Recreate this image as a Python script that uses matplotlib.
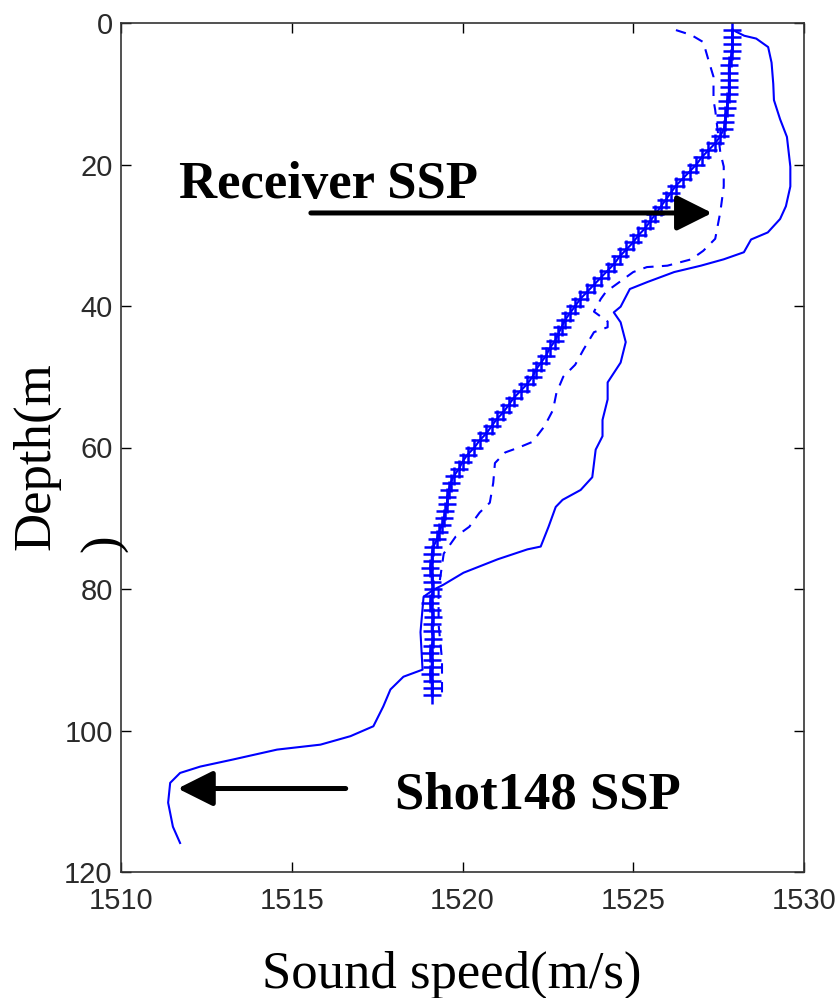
import matplotlib.pyplot as plt
from matplotlib import font_manager

# sound speed profiles: depth (m) vs speed (m/s)
shot_depth = [1.2, 1.8, 2.2, 3.4, 5.6, 8.6, 10.9, 13.6, 16.1, 20.3, 23.1, 25.9,
              27.7, 29.6, 30.6, 32.4, 33.4, 34.3, 35.2, 36.6, 37.6, 40.1, 40.9,
              42.3, 45.1, 48.0, 50.8, 53.2, 56.1, 58.4, 60.3, 64.2, 66.0, 67.4,
              68.4, 71.2, 74.0, 74.4, 75.8, 77.7, 79.4, 80.1, 81.1, 86.1, 91.4,
              92.4, 94.2, 96.6, 99.4, 100.8, 102.0, 102.7, 104.1, 105.1, 106.0,
              107.4, 110.2, 113.6, 115.9]
shot_speed = [1528.0, 1528.25, 1528.6, 1528.95, 1529.05, 1529.1, 1529.12, 1529.3,
              1529.5, 1529.6, 1529.6, 1529.47, 1529.3, 1528.94, 1528.45, 1528.24,
              1527.65, 1526.98, 1526.2, 1525.42, 1524.9, 1524.63, 1524.43, 1524.63,
              1524.78, 1524.63, 1524.25, 1524.25, 1524.1, 1524.1, 1523.9, 1523.8,
              1523.46, 1522.93, 1522.73, 1522.52, 1522.29, 1521.9, 1521.03, 1520.03,
              1519.44, 1519.15, 1518.86, 1518.77, 1518.83, 1518.27, 1517.89, 1517.68,
              1517.39, 1516.72, 1515.84, 1514.57, 1513.28, 1512.32, 1511.73, 1511.44,
              1511.38, 1511.52, 1511.73]

dash_depth = [1.0, 1.7, 2.7, 5.2, 7.6, 10.9, 12.3, 18.3, 20.3, 23.1, 26.7, 30.5,
              32.2, 33.4, 34.3, 34.5, 35.2, 36.6, 38.0, 39.0, 40.8, 42.2, 43.0,
              43.7, 46.1, 48.3, 50.0, 52.3, 54.7, 57.0, 59.2, 60.0, 60.7, 62.2,
              65.0, 67.8, 69.2, 71.2, 72.6, 75.0, 80.0, 85.0, 90.0, 95.2]
dash_speed = [1526.25, 1526.7, 1527.05, 1527.2, 1527.35, 1527.35, 1527.4, 1527.55,
              1527.65, 1527.65, 1527.55, 1527.4, 1527.05, 1526.7, 1526.0, 1525.4,
              1525.0, 1524.6, 1524.2, 1524.05, 1523.85, 1524.25, 1524.25, 1523.85,
              1523.55, 1523.3, 1522.95, 1522.75, 1522.65, 1522.4, 1522.05, 1521.65,
              1521.25, 1520.95, 1520.9, 1520.8, 1520.5, 1520.2, 1519.8, 1519.45,
              1519.3, 1519.3, 1519.4, 1519.4]

recv_depth = list(range(1, 96))
recv_speed = [1527.9, 1527.9, 1527.9, 1527.9, 1527.85, 1527.8, 1527.8, 1527.8,
              1527.8, 1527.8, 1527.75, 1527.75, 1527.7, 1527.7, 1527.65, 1527.55,
              1527.4, 1527.2, 1527.0, 1526.85, 1526.65, 1526.45, 1526.25, 1526.1,
              1525.95, 1525.8, 1525.65, 1525.5, 1525.35, 1525.15, 1525.0, 1524.8,
              1524.6, 1524.45, 1524.25, 1524.05, 1523.85, 1523.65, 1523.45, 1523.3,
              1523.15, 1523.0, 1522.9, 1522.8, 1522.7, 1522.55, 1522.45, 1522.3,
              1522.15, 1522.05, 1521.9, 1521.7, 1521.5, 1521.35, 1521.2, 1521.0,
              1520.85, 1520.7, 1520.5, 1520.35, 1520.15, 1520.0, 1519.9, 1519.75,
              1519.65, 1519.6, 1519.55, 1519.55, 1519.5, 1519.45, 1519.4, 1519.3,
              1519.25, 1519.15, 1519.1, 1519.1, 1519.05, 1519.1, 1519.1, 1519.15,
              1519.1, 1519.05, 1519.1, 1519.15, 1519.1, 1519.1, 1519.15, 1519.1,
              1519.05, 1519.1, 1519.1, 1519.05, 1519.1, 1519.1, 1519.1]

xticks = [1510, 1515, 1520, 1525, 1530]
yticks = [0, 20, 40, 60, 80, 100, 120]

names = {f.name for f in font_manager.fontManager.ttflist}
tick_font = 'Liberation Sans Narrow' if 'Liberation Sans Narrow' in names else 'Liberation Sans'
serif = 'Liberation Serif'

fig = plt.figure(figsize=(8.37, 9.98), dpi=100)
ax = fig.add_axes([121 / 837, 1 - 872 / 998, 683 / 837, 849 / 998])

blue = '#0000ff'
ax.plot(shot_speed, shot_depth, '-', color=blue, lw=1.5)
ax.plot(dash_speed, dash_depth, '--', color=blue, lw=1.5, dashes=(5, 4))
ax.plot(recv_speed, recv_depth, '-', color=blue, lw=1.5, marker='+',
        markersize=13.5, markeredgewidth=1.8)

ax.set_xlim(1510, 1530)
ax.set_ylim(120, 0)
ax.set_xticks(xticks)
ax.set_yticks(yticks)
ax.tick_params(direction='in', length=7, width=1, top=True, right=True,
               labelsize=21, labelcolor='#2a2a2a')
ax.tick_params(axis='x', pad=11)
ax.tick_params(axis='y', pad=6)
for lab in ax.get_xticklabels() + ax.get_yticklabels():
    lab.set_family(tick_font)
for sp in ax.spines.values():
    sp.set_linewidth(1.2)
    sp.set_color('#333333')

# arrows pointing at the two profiles
arrow = dict(arrowstyle='-|>', lw=3.6, color='k', mutation_scale=54,
             shrinkA=0, shrinkB=0, capstyle='round')
ax.annotate('', xy=(1527.31, 26.85), xytext=(1515.56, 26.85), arrowprops=arrow)
ax.annotate('', xy=(1511.66, 108.2), xytext=(1516.58, 108.2), arrowprops=arrow)

ax.text(1511.7, 24.7, 'Receiver SSP', family=serif, weight='bold', fontsize=38,
        va='baseline', ha='left')
ax.text(1518.03, 111.0, 'Shot148 SSP', family=serif, weight='bold', fontsize=38,
        va='baseline', ha='left')

fig.text(452 / 837, 1 - 988 / 998, 'Sound speed(m/s)', family=serif, fontsize=38,
         ha='center', va='baseline')
# y label wraps, closing bracket falls on a second line
fig.text(12 / 837, 1 - 550 / 998, 'Depth(m', family=serif, fontsize=38,
         rotation=90, ha='left', va='bottom')
fig.text(80 / 837, 1 - 552 / 998, ')', family=serif, fontsize=38,
         rotation=90, ha='left', va='bottom')

fig.savefig('out.png', dpi=100)
